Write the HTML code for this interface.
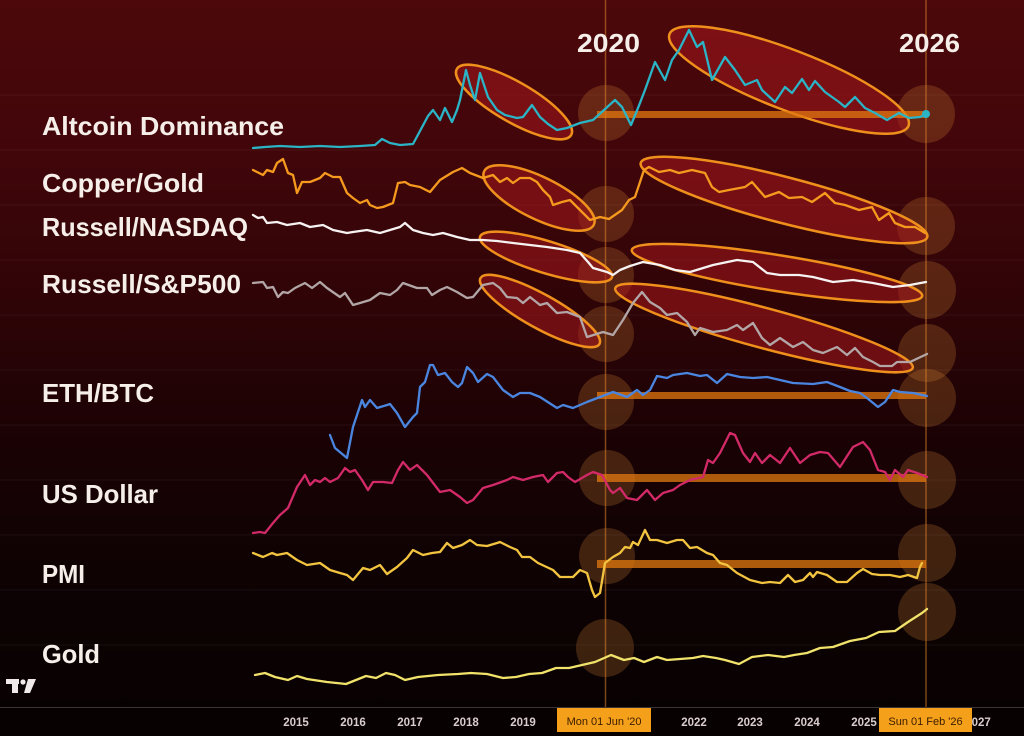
<!DOCTYPE html>
<html><head><meta charset="utf-8"><style>
html,body{margin:0;padding:0;background:#080203;}
svg{display:block;}
</style></head><body>
<svg width="1024" height="736" viewBox="0 0 1024 736" xmlns="http://www.w3.org/2000/svg">
<defs>
<linearGradient id="bg" x1="0" y1="0" x2="0" y2="1">
<stop offset="0" stop-color="#4c080b"/>
<stop offset="0.2" stop-color="#42060a"/>
<stop offset="0.42" stop-color="#2e0407"/>
<stop offset="0.6" stop-color="#1a0204"/>
<stop offset="0.78" stop-color="#0e0203"/>
<stop offset="1" stop-color="#070102"/>
</linearGradient>
</defs>
<rect x="0" y="0" width="1024" height="736" fill="url(#bg)"/>
<g stroke="rgba(255,255,255,0.05)" stroke-width="1">
<line x1="0" y1="95" x2="1024" y2="95"/><line x1="0" y1="150" x2="1024" y2="150"/>
<line x1="0" y1="205" x2="1024" y2="205"/><line x1="0" y1="260" x2="1024" y2="260"/>
<line x1="0" y1="315" x2="1024" y2="315"/><line x1="0" y1="370" x2="1024" y2="370"/>
<line x1="0" y1="425" x2="1024" y2="425"/><line x1="0" y1="480" x2="1024" y2="480"/>
<line x1="0" y1="535" x2="1024" y2="535"/><line x1="0" y1="590" x2="1024" y2="590"/>
<line x1="0" y1="645" x2="1024" y2="645"/>
</g>
<!-- glow circles -->
<g fill="rgba(210,130,50,0.25)">
<circle cx="606" cy="113" r="28"/><circle cx="606" cy="214" r="28"/><circle cx="606" cy="275" r="28"/>
<circle cx="606" cy="334" r="28"/><circle cx="606" cy="402" r="28"/><circle cx="607" cy="478" r="28"/>
<circle cx="607" cy="556" r="28"/><circle cx="605" cy="648" r="29"/>
<circle cx="926" cy="114" r="29"/><circle cx="926" cy="226" r="29"/><circle cx="927" cy="290" r="29"/>
<circle cx="927" cy="353" r="29"/><circle cx="927" cy="398" r="29"/><circle cx="927" cy="480" r="29"/>
<circle cx="927" cy="553" r="29"/><circle cx="927" cy="612" r="29"/>
</g>
<!-- vertical lines -->
<g stroke="rgba(220,130,40,0.55)" stroke-width="1.5">
<line x1="605.5" y1="0" x2="605.5" y2="708"/><line x1="926" y1="0" x2="926" y2="708"/>
</g>
<!-- ellipses -->
<g fill="rgba(160,22,28,0.58)" stroke="#f0901c" stroke-width="2.5">
<ellipse cx="514" cy="102" rx="66" ry="20" transform="rotate(30 514 102)"/>
<ellipse cx="789" cy="80" rx="128" ry="30" transform="rotate(21 789 80)"/>
<ellipse cx="539" cy="198" rx="61" ry="21" transform="rotate(26 539 198)"/>
<ellipse cx="784" cy="200" rx="148" ry="23" transform="rotate(14.5 784 200)"/>
<ellipse cx="546" cy="257" rx="69" ry="16" transform="rotate(17 546 257)"/>
<ellipse cx="777" cy="273" rx="147" ry="18" transform="rotate(9 777 273)"/>
<ellipse cx="540" cy="311" rx="68" ry="17" transform="rotate(29 540 311)"/>
<ellipse cx="764" cy="328" rx="154" ry="20" transform="rotate(15 764 328)"/>
</g>
<!-- horizontal bars -->
<g fill="rgba(225,120,15,0.75)">
<rect x="597" y="111" width="329" height="7"/>
<rect x="597" y="392" width="329" height="7"/>
<rect x="597" y="474" width="329" height="8"/>
<rect x="597" y="560" width="329" height="8"/>
</g>
<g fill="none" stroke-width="2.3" stroke-linejoin="round" stroke-linecap="round">
<polyline stroke="#2bb4c6" points="253,148 265,147 280,146 300,147 320,146 340,147 360,146 375,145 382,139 390,143 400,145 413,144 420,131 428,116 433,110 440,120 445,108 452,122 457,110 460,100 466,70 470,85 475,100 480,73 488,97 497,110 505,115 517,118 523,117 532,105 540,117 548,124 557,130 567,128 580,123 593,120 604,110 615,100 622,107 631,125 638,108 645,90 655,62 665,80 672,60 679,50 689,30 697,47 703,42 712,80 725,57 735,70 745,85 757,80 762,90 775,102 785,87 792,93 802,79 809,90 815,81 825,92 839,102 845,107 855,97 865,108 875,113 887,120 899,113 909,118 920,117 926,114"/>
<polyline stroke="#f59a1e" points="253,170 263,175 267,170 273,172 277,163 283,159 288,173 293,175 297,193 302,182 310,182 320,178 325,173 333,177 340,177 347,193 353,198 360,203 367,200 370,205 377,208 383,207 393,203 398,183 405,182 410,185 420,187 430,192 440,180 453,172 462,168 470,173 483,178 493,175 500,182 507,178 513,183 520,178 530,178 537,182 543,190 550,197 553,205 562,202 570,200 575,205 580,210 585,215 590,220 600,217 609,219 622,210 629,200 635,197 644,170 649,167 659,172 670,170 679,173 692,170 705,173 712,187 719,192 729,190 745,187 752,182 765,197 779,192 789,198 802,197 812,202 825,193 835,203 845,205 859,210 872,207 879,220 889,213 895,223 905,227 915,227 925,233"/>
<polyline stroke="#f6f2f2" points="253,215 258,218 263,217 267,223 277,222 287,225 300,223 310,227 323,225 333,230 347,233 353,232 367,230 380,233 390,230 400,227 405,223 413,230 423,233 433,235 443,233 457,237 470,240 483,240 497,241 513,243 530,245 547,247 567,250 580,253 588,262 593,268 607,272 613,275 620,270 630,266 643,262 660,265 675,270 690,272 713,265 737,260 753,262 767,273 780,275 799,275 813,277 833,282 853,280 873,283 893,287 910,285 926,282"/>
<polyline stroke="#b3a6a6" points="253,283 263,282 267,288 273,287 278,297 283,292 288,293 295,288 305,283 312,288 320,282 327,288 340,297 345,293 353,305 360,303 370,300 380,293 390,295 397,290 403,283 417,288 427,288 432,295 440,290 447,287 457,292 467,298 473,297 483,285 493,283 500,288 507,297 517,298 523,303 530,297 540,305 547,303 557,313 567,312 580,317 587,337 603,332 613,335 623,320 633,303 642,292 650,302 660,308 667,315 677,313 687,322 695,335 700,328 713,332 727,330 737,325 743,330 753,323 762,338 770,345 780,338 793,347 803,342 813,350 823,353 837,347 847,355 855,348 863,357 873,362 880,366 892,366 897,362 910,362 927,354"/>
<polyline stroke="#4a86e0" points="330,435 335,448 347,458 353,427 362,400 365,407 370,400 377,408 387,405 390,404 397,413 405,427 413,417 417,413 420,387 425,382 430,365 433,365 438,375 445,373 452,382 458,387 462,383 467,367 473,373 478,382 487,374 493,377 503,390 513,397 520,393 530,393 540,397 557,408 563,405 573,408 587,402 600,397 613,392 627,397 637,390 643,395 650,390 657,376 667,378 673,375 687,373 700,376 707,375 717,383 727,374 740,377 753,378 767,377 780,380 793,383 813,384 827,382 840,387 850,391 860,393 867,398 878,407 885,402 893,390 900,392 913,393 927,396"/>
<polyline stroke="#d22a68" points="253,533 260,532 265,533 273,523 280,515 288,508 297,487 305,475 310,485 315,480 320,482 325,478 330,482 338,478 345,468 350,472 355,470 362,480 368,490 373,482 383,482 392,483 398,470 403,462 410,470 417,465 427,475 440,492 450,490 460,497 467,503 473,500 483,488 493,485 507,480 513,477 523,480 533,477 543,475 548,482 557,473 563,472 568,477 575,482 587,475 593,472 602,475 610,490 613,493 620,488 627,498 637,500 647,490 655,500 663,493 673,490 680,485 690,480 703,477 708,460 713,463 720,453 730,433 735,435 743,453 750,462 755,453 762,463 770,455 780,463 790,448 800,463 810,455 820,452 828,453 840,467 853,447 863,442 870,450 878,470 885,472 890,480 895,470 903,477 908,470 917,473 927,477"/>
<polyline stroke="#f2c440" points="253,553 263,557 272,553 277,555 287,553 297,560 307,565 320,563 330,570 340,573 347,575 353,580 363,568 370,570 380,565 387,574 397,567 407,558 413,550 423,555 432,553 440,552 447,543 453,548 462,545 470,540 477,545 487,546 497,543 500,542 510,547 517,550 522,557 530,557 538,563 553,570 560,577 573,577 580,570 587,573 592,590 595,597 600,593 605,563 613,557 620,553 625,547 630,548 633,542 638,545 645,530 650,540 657,540 667,543 677,540 683,540 690,548 697,547 707,553 713,555 720,563 727,565 737,573 750,580 762,583 770,582 780,583 788,575 795,582 803,580 810,573 813,577 817,572 827,575 837,582 847,582 857,573 863,569 872,574 880,575 890,575 900,577 908,575 917,578 920,567 922,563"/>
<polyline stroke="#f0e26a" points="255,675 265,673 275,677 288,680 297,676 307,679 327,682 346,684 356,680 366,676 376,678 386,673 395,675 405,680 418,677 438,675 458,674 471,673 487,674 503,678 516,677 529,674 542,673 556,668 569,668 582,665 595,662 611,655 624,660 634,658 644,662 657,657 667,660 680,659 693,658 703,656 716,658 725,660 739,664 752,657 768,655 784,657 794,655 807,653 820,648 833,647 850,641 866,638 879,632 895,631 908,622 922,613 927,609"/>
</g>
<circle cx="926" cy="114" r="4" fill="#2bb4c6"/>
<!-- labels -->
<g font-family="'Liberation Sans', sans-serif" font-weight="bold" font-size="26" fill="#f6efe9">
<text x="42" y="135" textLength="242" lengthAdjust="spacingAndGlyphs">Altcoin Dominance</text>
<text x="42" y="192" textLength="162" lengthAdjust="spacingAndGlyphs">Copper/Gold</text>
<text x="42" y="236" textLength="206" lengthAdjust="spacingAndGlyphs">Russell/NASDAQ</text>
<text x="42" y="293" textLength="199" lengthAdjust="spacingAndGlyphs">Russell/S&amp;P500</text>
<text x="42" y="402" textLength="112" lengthAdjust="spacingAndGlyphs">ETH/BTC</text>
<text x="42" y="503" textLength="116" lengthAdjust="spacingAndGlyphs">US Dollar</text>
<text x="42" y="583" textLength="43" lengthAdjust="spacingAndGlyphs">PMI</text>
<text x="42" y="663" textLength="58" lengthAdjust="spacingAndGlyphs">Gold</text>
<text x="577" y="52" textLength="63" lengthAdjust="spacingAndGlyphs">2020</text>
<text x="899" y="52" textLength="61" lengthAdjust="spacingAndGlyphs">2026</text>
</g>
<!-- TV logo -->
<g fill="#f0eaea">
<rect x="6" y="679" width="13" height="5"/>
<rect x="12" y="679" width="6" height="14"/>
<circle cx="23" cy="682" r="2.6"/>
<polygon points="28,679 36,679 30,693 24,693"/>
</g>
<!-- axis -->
<line x1="0" y1="707.5" x2="1024" y2="707.5" stroke="#3a3434" stroke-width="1"/>
<g font-family="'Liberation Sans', sans-serif" font-weight="bold" font-size="11.5" fill="#d9cccc" text-anchor="middle">
<text x="296" y="726">2015</text><text x="353" y="726">2016</text><text x="410" y="726">2017</text>
<text x="466" y="726">2018</text><text x="523" y="726">2019</text><text x="694" y="726">2022</text>
<text x="750" y="726">2023</text><text x="807" y="726">2024</text><text x="864" y="726">2025</text>
<text x="978" y="726">2027</text>
</g>
<rect x="557" y="708" width="94" height="24" fill="#f5a01a"/>
<rect x="879" y="708" width="93" height="24" fill="#f5a01a"/>
<g font-family="'Liberation Sans', sans-serif" font-size="11" fill="#3a1c00" text-anchor="middle">
<text x="604" y="725">Mon 01 Jun '20</text>
<text x="925.5" y="725">Sun 01 Feb '26</text>
</g>
</svg>
</body></html>
